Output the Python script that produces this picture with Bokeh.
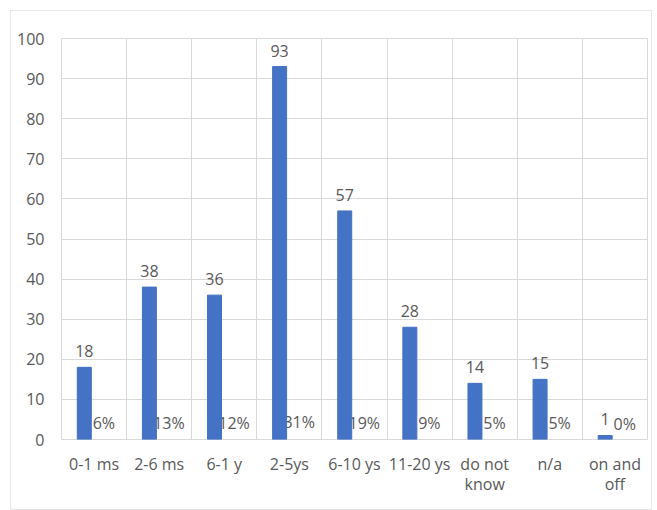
from bokeh.plotting import figure
from bokeh.models import FixedTicker, ColumnDataSource
from bokeh.core.properties import value
from bokeh.embed import file_html
from bokeh.resources import INLINE

# Survey answers: how long, with counts and share of all 300 answers
categories = ["0-1 ms", "2-6 ms", "6-1 y", "2-5ys", "6-10 ys", "11-20 ys",
              "do not know", "n/a", "on and off"]
tick_labels = ["0-1 ms", "2-6 ms", "6-1 y", "2-5ys", "6-10 ys", "11-20 ys",
               "do not\nknow", "n/a", "on and\noff"]
counts = [18, 38, 36, 93, 57, 28, 14, 15, 1]
shares = [0.06, 0.13, 0.12, 0.31, 0.19, 0.09, 0.05, 0.05, 0.00]
y_ticks = [0, 10, 20, 30, 40, 50, 60, 70, 80, 90, 100]

BLUE = "#4472C4"
GRID = "#d9d9d9"
TEXT = "#595959"
FONT = value("Open Sans")
SIZE = "16px"

n = len(categories)
centers = [i + 0.5 for i in range(n)]
shift = 0.15
bar_w = 0.215

src = ColumnDataSource(dict(
    cat=categories,
    xc=[c - shift for c in centers],
    xp=[c + shift for c in centers],
    count=counts,
    share=shares,
    count_txt=[str(v) for v in counts],
    share_txt=["{:.0f}%".format(v * 100) for v in shares],
))

p = figure(width=642, height=500, x_range=(0, n), y_range=(0, 100),
           output_backend="svg", toolbar_location=None,
           min_border_left=50, min_border_right=6, min_border_top=27,
           min_border_bottom=72, margin=(10, 5, 0, 10),
           styles={"border": "1px solid #e6e6e6"})

p.background_fill_color = "white"
p.border_fill_color = "white"
p.outline_line_color = GRID

# grid: horizontal every 10, vertical at category boundaries
p.ygrid.ticker = FixedTicker(ticks=y_ticks)
p.ygrid.grid_line_color = GRID
p.xgrid.ticker = FixedTicker(ticks=list(range(n + 1)))
p.xgrid.grid_line_color = GRID

p.yaxis.ticker = FixedTicker(ticks=y_ticks)
p.xaxis.ticker = FixedTicker(ticks=centers)
p.xaxis.major_label_overrides = {c: lab for c, lab in zip(centers, tick_labels)}

for ax in (p.xaxis[0], p.yaxis[0]):
    ax.axis_line_color = None
    ax.major_tick_line_color = None
    ax.minor_tick_line_color = None
    ax.major_label_text_font = "Open Sans"
    ax.major_label_text_font_size = SIZE
    ax.major_label_text_color = TEXT
p.yaxis.major_label_standoff = 11
p.xaxis.major_label_standoff = 7
p.xaxis.major_label_text_line_height = 0.95

# share labels sit behind the count bars
p.text(x="xp", y="share", text="share_txt", source=src, text_font=FONT,
       text_font_size=SIZE, text_color=TEXT, text_align="center",
       text_baseline="alphabetic", y_offset=-16)
p.vbar(x="xc", top="count", width=bar_w, source=src, color=BLUE)
p.text(x="xc", y="count", text="count_txt", source=src, text_font=FONT,
       text_font_size=SIZE, text_color=TEXT, text_align="center",
       text_baseline="alphabetic", y_offset=-16)

open("out.html", "w").write(file_html(p, INLINE))
